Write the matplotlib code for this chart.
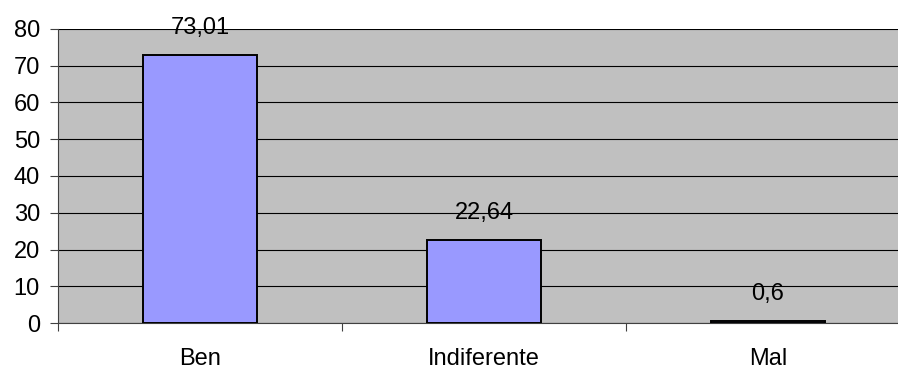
import matplotlib
matplotlib.use("Agg")
import matplotlib.pyplot as plt

categorias = ["Ben", "Indiferente", "Mal"]
valores = [73.01, 22.64, 0.6]
etiquetas = ["73,01", "22,64", "0,6"]

plt.rcParams["font.family"] = ["Liberation Sans", "DejaVu Sans"]

fig = plt.figure(figsize=(8.98, 3.71), dpi=100)
fig.patch.set_facecolor("white")
# plot area runs a bit past the right edge of the figure
ax = fig.add_axes([58 / 898, 48 / 371, 852 / 898, 294 / 371])
ax.set_facecolor("#C0C0C0")

x = list(range(len(categorias)))
ax.bar(x, valores, width=0.4, color="#9999FF", edgecolor="black", linewidth=1.4, zorder=3)

for xi, v, t in zip(x, valores, etiquetas):
    ax.annotate(t, (xi, v), xytext=(0, 15), textcoords="offset points",
                ha="center", va="baseline", fontsize=17, zorder=4)

ax.set_xlim(-0.5, 2.5)
ax.set_ylim(0, 80)
ax.set_yticks(range(0, 81, 10))
ax.yaxis.grid(True, color="black", linewidth=0.8, zorder=1)
ax.set_axisbelow(True)

ax.set_xticks(x)
ax.set_xticklabels(categorias)
ax.set_xticks([-0.5, 0.5, 1.5, 2.5], minor=True)
ax.tick_params(axis="x", which="major", length=0, pad=18, labelsize=17)
ax.tick_params(axis="x", which="minor", length=6, width=0.8, color="#404040")
ax.tick_params(axis="y", length=6, width=0.8, color="#404040", pad=7, labelsize=17)

for s in ["top", "right"]:
    ax.spines[s].set_visible(False)
for s in ["left", "bottom"]:
    ax.spines[s].set_color("#404040")
    ax.spines[s].set_linewidth(0.8)

fig.savefig("out.png", dpi=100)
